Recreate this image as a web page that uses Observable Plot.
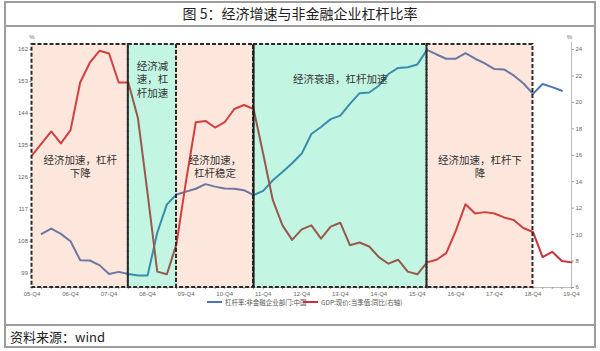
<!DOCTYPE html>
<html><head><meta charset="utf-8">
<script src="https://cdn.jsdelivr.net/npm/d3@7"></script>
<script src="https://cdn.jsdelivr.net/npm/@observablehq/plot@0.6"></script>
<style>
body{margin:0;background:#fff;font-family:"Noto Sans CJK SC","Noto Sans",sans-serif;}
#wrap{position:relative;width:600px;height:351px;overflow:hidden;background:#fff;}
#frame{position:absolute;left:4px;top:1px;width:592px;height:347px;border:2px solid #9d9d9d;box-sizing:border-box;}
#title{position:absolute;left:4px;top:1px;width:592px;height:26px;border-bottom:2px solid #9d9d9d;box-sizing:border-box;text-align:center;font-size:14px;line-height:24px;color:#222;}
#chart{position:absolute;left:0;top:25px;}
#legend{position:absolute;top:297px;left:0;width:600px;height:10px;font-size:6.5px;color:#555;font-family:"Noto Sans CJK SC",sans-serif;}
#legend .it{position:absolute;top:0;display:flex;align-items:center;height:10px;white-space:nowrap;}
#legend .sw{display:inline-block;width:15px;height:2px;margin-right:3px;}
#caption{position:absolute;left:4px;top:324px;width:592px;height:24px;border-top:2px solid #9d9d9d;box-sizing:border-box;font-size:13px;line-height:21px;color:#222;padding-left:6px;}
</style></head>
<body>
<div id="wrap">
  <div id="frame"></div>
  <div id="title">图 5：经济增速与非金融企业杠杆比率</div>
  <div id="chart"></div>
  <div id="legend"></div>
  <div id="caption">资料来源：wind</div>
</div>
<script>
// x tick labels (one every 4 quarters, quarter index 0 = 05-Q4)
const quarterTicks = ["05-Q4","06-Q4","07-Q4","08-Q4","09-Q4","10-Q4","11-Q4","12-Q4","13-Q4","14-Q4","15-Q4","16-Q4","17-Q4","18-Q4","19-Q4"];

// 杠杆率:非金融企业部门:中国 (left axis, %), quarterly from 05-Q4 to 19-Q4
const leverage = [null,110.1,111.6,110.1,108.0,102.7,102.6,101.3,98.8,99.4,
  98.8,98.4,98.4,110.4,118.4,121.2,122.0,122.8,124.1,123.4,
  122.9,122.8,122.4,121.0,122.2,125.2,127.5,130.0,132.7,138.2,
  140.2,142.4,143.4,146.7,149.7,149.9,151.8,155.1,156.8,157.0,
  157.8,161.9,160.6,159.4,159.4,161.0,159.4,158.1,156.5,156.4,
  154.7,152.5,149.5,152.3,151.4,150.4,null];

// GDP:现价:当季值:同比 (right axis, %)
const gdp = [16.0,16.9,17.8,16.9,17.9,21.5,23.0,23.9,23.7,21.5,
  21.5,18.8,13.1,7.2,7.0,9.3,14.1,18.5,18.6,18.1,
  18.5,19.5,19.8,19.5,16.1,12.6,10.7,9.6,10.4,10.7,
  9.7,10.6,10.9,9.2,9.4,9.1,8.3,7.8,8.1,7.2,
  7.0,7.9,8.1,8.6,10.3,12.3,11.6,11.7,11.6,11.3,
  11.1,10.5,10.2,8.3,8.7,8.0,7.9];

// shaded phases (quarter index)
const regionStart = [0,10,15,23,41];
const regionEnd   = [10,15,23,41,52];
const regionKind  = ["accel","decel","accel","decel","accel"];
const regionLabel = ["经济加速，杠杆\n下降","经济减\n速，杠\n杆加速","经济加速，\n杠杆稳定","经济衰退，杠杆加速","经济加速，杠杆下\n降"];

const leftTicks = [99,108,117,126,135,144,153,162];
const rightTicks = [6,8,10,12,14,16,18,20,22,24];

const legendNames = ["杠杆率:非金融企业部门:中国","GDP:现价:当季值:同比(右轴)"];

// ---- build
const L0 = 95, L1 = 162, R0 = 6, R1 = 24;
const toLeft = v => L0 + (v - R0) * (L1 - L0) / (R1 - R0);
const toRight = v => Math.round(R0 + (v - L0) * (R1 - R0) / (L1 - L0));
const lev = leverage.map((v, i) => ({i, v})).filter(d => d.v != null);
const gd = gdp.map((v, i) => ({i, v: toLeft(v)}));
const regions = regionStart.map((s, j) => ({s, e: regionEnd[j], kind: regionKind[j], label: regionLabel[j]}));
const BLUE = "#4a76b8", RED = "#c8303a";
const boxTop = 163.4;
const cjk = "Noto Sans CJK SC, sans-serif";
const nQ = gdp.length;

const chart = Plot.plot({
  width: 600, height: 272,
  marginLeft: 31.5, marginRight: 29, marginTop: 24, marginBottom: 10,
  style: {background: "transparent", fontFamily: "Liberation Sans, Arial, sans-serif", fontSize: "6px", color: "#666"},
  x: {domain: [0, nQ - 1], axis: null},
  y: {domain: [L0, L1], axis: null},
  marks: [
    Plot.ruleY([L0], {stroke: "#bdbdbd", strokeWidth: 1}),
    Plot.ruleX([nQ - 1], {y1: L0, y2: boxTop + 0.6, stroke: "#bdbdbd", strokeWidth: 1}),
    Plot.axisX({ticks: d3.range(0, nQ), tickFormat: i => i % 4 === 0 ? quarterTicks[i / 4] : "", tickSize: 2, tickPadding: 2, fontSize: 6, stroke: "#999", fill: "#666", label: null}),
    Plot.axisY({anchor: "left", ticks: leftTicks, tickSize: 2, tickPadding: 2, fontSize: 6, stroke: "#999", fill: "#666", label: null}),
    Plot.axisY({anchor: "right", ticks: rightTicks.map(toLeft), tickFormat: d => toRight(d), tickSize: 2, tickPadding: 2, fontSize: 6, stroke: "#999", fill: "#666", label: null}),
    Plot.text(["%"], {x: 0, y: L1, dy: -12, fontSize: 6, fill: "#666"}),
    Plot.text(["%"], {x: nQ - 1, y: L1, dy: -12, dx: -2, fontSize: 6, fill: "#666"}),
    Plot.line(lev, {x: "i", y: "v", stroke: BLUE, strokeWidth: 2}),
    Plot.line(gd, {x: "i", y: "v", stroke: RED, strokeWidth: 2}),
    Plot.rect(regions.filter(d => d.kind === "accel"), {x1: "s", x2: "e", y1: L0, y2: boxTop, fill: "#f5824f", fillOpacity: 0.2}),
    Plot.rect(regions.filter(d => d.kind === "decel"), {x1: "s", x2: "e", y1: L0, y2: boxTop, fill: "#00d98a", fillOpacity: 0.24}),
    Plot.rect(regions, {x1: "s", x2: "e", y1: L0, y2: boxTop, fill: "none", stroke: "#2b2b2b", strokeWidth: 2, strokeDasharray: "4,2"}),
    Plot.ruleX([regionStart[3]], {y1: L0, y2: boxTop, stroke: "#1f1f1f", strokeWidth: 2}),
    Plot.text(regions.filter((d, j) => j % 2 === 0), {x: d => (d.s + d.e) / 2, y: 129.2, text: "label", fontSize: 10.5, lineHeight: 1.32, fill: "#333", fontFamily: cjk}),
    Plot.text(regions.filter((d, j) => j % 2 === 1), {x: d => (d.s + d.e) / 2, y: 153.7, text: "label", fontSize: 10.5, lineHeight: 1.32, fill: "#333", fontFamily: cjk})
  ]
});
document.getElementById("chart").appendChild(chart);

const leg = document.getElementById("legend");
[[BLUE, 207], [RED, 303]].forEach(([c, left], j) => {
  const it = document.createElement("div");
  it.className = "it"; it.style.left = left + "px";
  it.innerHTML = `<span class="sw" style="background:${c}"></span><span>${legendNames[j]}</span>`;
  leg.appendChild(it);
});
</script>
</body></html>
